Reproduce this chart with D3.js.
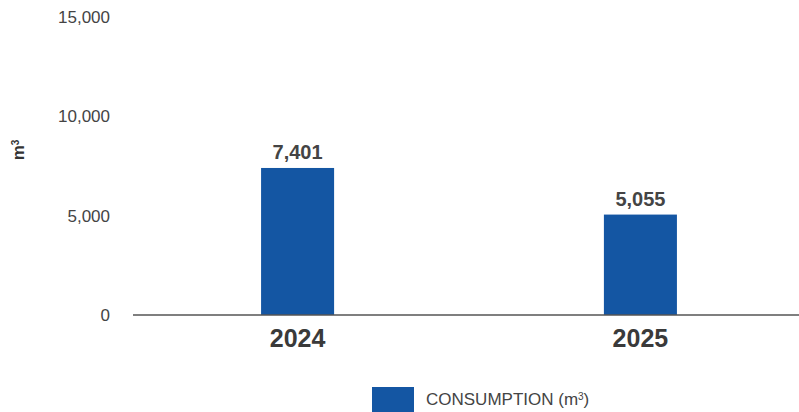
<!DOCTYPE html>
<html>
<head>
<meta charset="utf-8">
<script src="https://cdn.jsdelivr.net/npm/d3@7"></script>
<style>
  body { margin: 0; background: #fff; }
  svg text { font-family: "Liberation Sans", Arial, sans-serif; }
</style>
</head>
<body>
<div id="chart"></div>
<script>
// data
const years = ["2024", "2025"];
const consumption = [7401, 5055];
const yTicks = [0, 5000, 10000, 15000];
const seriesName = "CONSUMPTION (m\u00b3)";

const width = 799, height = 412;
const barColor = "#1456a3";
const textColor = "#444";

const svg = d3.select("#chart")
    .append("svg")
    .attr("width", width)
    .attr("height", height);

const y = d3.scaleLinear()
    .domain([0, 15000])
    .range([315, 17]);

// band scale, extended a bit past the visible axis so the bars sit where they should
const x = d3.scaleBand()
    .domain(years)
    .range([126, 812])
    .paddingInner(0.787)
    .paddingOuter(0.394);

// y labels (no axis line)
svg.append("g")
    .selectAll("text")
    .data(yTicks)
    .join("text")
    .attr("x", 110)
    .attr("y", d => y(d))
    .attr("dy", "0.35em")
    .attr("text-anchor", "end")
    .attr("font-size", 17)
    .attr("fill", textColor)
    .text(d => d3.format(",")(d));

// y title
svg.append("text")
    .attr("transform", "translate(24,150) rotate(-90)")
    .attr("text-anchor", "middle")
    .attr("font-size", 17)
    .attr("font-weight", "bold")
    .attr("fill", "#333")
    .html('m<tspan baseline-shift="super" font-size="10">3</tspan>');

// bars
svg.append("g")
    .selectAll("rect")
    .data(years)
    .join("rect")
    .attr("x", d => x(d))
    .attr("width", x.bandwidth())
    .attr("y", (d, i) => y(consumption[i]))
    .attr("height", (d, i) => y(0) - y(consumption[i]))
    .attr("fill", barColor);

// value labels
svg.append("g")
    .selectAll("text")
    .data(years)
    .join("text")
    .attr("x", d => x(d) + x.bandwidth() / 2)
    .attr("y", (d, i) => y(consumption[i]) - 9)
    .attr("text-anchor", "middle")
    .attr("font-size", 20)
    .attr("font-weight", "bold")
    .attr("fill", textColor)
    .text((d, i) => d3.format(",")(consumption[i]));

// baseline
svg.append("line")
    .attr("x1", 133)
    .attr("x2", width)
    .attr("y1", y(0))
    .attr("y2", y(0))
    .attr("stroke", "#555")
    .attr("stroke-width", 1.5);

// x labels
svg.append("g")
    .selectAll("text")
    .data(years)
    .join("text")
    .attr("x", d => x(d) + x.bandwidth() / 2)
    .attr("y", 347)
    .attr("text-anchor", "middle")
    .attr("font-size", 25)
    .attr("font-weight", "bold")
    .attr("fill", "#3a3a3a")
    .text(d => d);

// legend
const legend = svg.append("g").attr("transform", "translate(372,387)");
legend.append("rect")
    .attr("width", 42)
    .attr("height", 25)
    .attr("fill", barColor);
legend.append("text")
    .attr("x", 54)
    .attr("y", 12.5)
    .attr("dy", "0.35em")
    .attr("font-size", 17)
    .attr("fill", textColor)
    .html('CONSUMPTION (m<tspan baseline-shift="super" font-size="10">3</tspan>)');
</script>
</body>
</html>
